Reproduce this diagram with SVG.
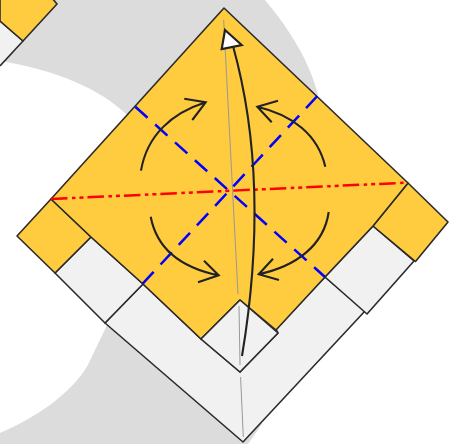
<svg xmlns="http://www.w3.org/2000/svg" width="456" height="444" viewBox="0 0 456 444">
<style>
.y{fill:#ffcb3f;stroke:#2b2b2b;stroke-width:1.6;stroke-linejoin:round}
.w{fill:#f1f1f1;stroke:#2b2b2b;stroke-width:1.6;stroke-linejoin:round}
.g{fill:none;stroke:#999;stroke-width:1}
.a{fill:none;stroke:#222;stroke-width:2.1;stroke-linecap:butt;stroke-linejoin:miter}
.b{stroke:#00f;stroke-width:2.5;stroke-dasharray:16.5 10.2;fill:none}
.r{stroke:#f00;stroke-width:2.5;stroke-dasharray:16.5 4.5 3.5 4 4 4;fill:none}
</style>
<g id="background">
<path d="M0,0H265C290,30 310,62 318,95L128,116C100,88 55,70 0,61ZM108,323C100,340 95,350 88,365C70,395 35,418 0,433V444H248L262,424Z" fill="#dcdcdc"/>
</g>
<g id="corner-fragment">
<path class="w" d="M0,21L23,41L0,66"/>
<path class="y" d="M52,-2L57,4L23,41L0,21V-2Z"/>
</g>
<g id="paper-lower">
<path class="w" d="M105,323L143,284L201,339L240,372L278,333L276,329L325,277L365,311L243,442Z"/>
<path class="w" d="M55,273L91,237L143,284L105,323Z"/>
<path class="w" d="M373,226L414,261L367,314L325,277Z"/>
</g>
<g id="flap-left"><path class="y" d="M51,199L17,236L55,273L91,237Z"/></g>
<g id="flap-right"><path class="y" d="M408,183L448,222L415.5,261.5L373,226Z"/></g>
<g id="paper-main"><path class="y" d="M224,8L408,183L373,226L325,277L276,330L240,300L201,339L143,284L91,237L51,199Z"/></g>
<g id="center-diamond"><path class="w" d="M201,339L240,300L278,333L240,372Z"/></g>
<g id="connectors">
<path class="g" d="M223.7,20L238,294M239,306L240,365M240.6,377L243.3,437"/>
<path class="b" d="M135.3,106.7L325,277"/>
<path class="b" d="M317.3,96L142.7,283.7"/>
<path class="r" d="M51,199L408,182.6"/>
<path class="a" d="M141,170.7C147,135 172,113 205.7,102.3M184.3,98.7L205.7,102.3L192.3,120"/>
<path class="a" d="M325.3,166.7C318,135 293,115 257.3,106.7M278,100.7L257.3,106.7L271.7,122.3"/>
<path class="a" d="M150.7,216.7C157,250 183,268 218.7,275.3M204,260.7L218.7,275.3L198,282.3"/>
<path class="a" d="M328.7,212C324,245 297,266 258.7,274.3M273,258.7L258.7,274.3L279,280"/>
<path class="a" d="M242,356C258,260 262,150 233,46"/>
<path d="M225,30L241.7,45L221.7,49Z" fill="#fff" stroke="#222" stroke-width="2.2"/>
</g>
</svg>
